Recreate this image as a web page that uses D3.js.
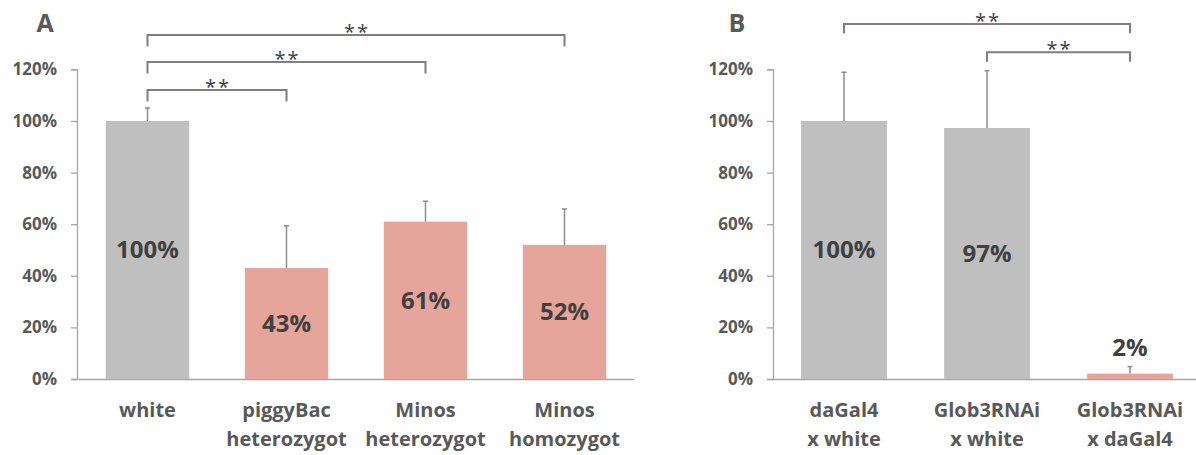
<!DOCTYPE html>
<html>
<head>
<meta charset="utf-8">
<script src="https://cdn.jsdelivr.net/npm/d3@7"></script>
<style>
  body { margin: 0; background: #fff; }
  svg { display: block; }
  text { font-family: "Open Sans", sans-serif; font-weight: bold; }
</style>
</head>
<body>
<div id="chart"></div>
<script>
const width = 1196
const height = 455

// Panel A
const catsA = ["white", "piggyBac\nheterozygot", "Minos\nheterozygot", "Minos\nhomozygot"]
const valuesA = [1.0, 0.43, 0.61, 0.52]
const errorsA = [0.05, 0.164, 0.079, 0.139]
const labelsA = ["100%", "43%", "61%", "52%"]
const groupsA = ["control", "test", "test", "test"]
const bracketsA = [[0, 1], [0, 2], [0, 3]]
const bracketLevelsA = [1.12, 1.229, 1.333]

// Panel B
const catsB = ["daGal4\nx white", "Glob3RNAi\nx white", "Glob3RNAi\nx daGal4"]
const valuesB = [1.0, 0.973, 0.021]
const errorsB = [0.189, 0.222, 0.027]
const labelsB = ["100%", "97%", "2%"]
const groupsB = ["control", "control", "test"]
const bracketsB = [[0, 2], [1, 2]]
const bracketLevelsB = [1.376, 1.266]

const yTicks = [0, 0.2, 0.4, 0.6, 0.8, 1.0, 1.2]
const stars = "**"

const color = { control: "#bfbfbf", test: "#e5a59a" }

const svg = d3.select("#chart").append("svg")
  .attr("width", width)
  .attr("height", height)

svg.append("rect").attr("width", width).attr("height", height).style("fill", "#fff")

function drawPanel(p) {
  const x = d3.scaleBand(p.cats, p.xRange).paddingInner(0.4).paddingOuter(0.2)
  const y = d3.scaleLinear([0, 1.2], [379, 69.4])
  const g = svg.append("g")

  // panel letter
  g.append("text")
    .attr("x", p.letterX).attr("y", 32)
    .attr("text-anchor", "middle")
    .style("font-size", "25px").style("fill", "#595959")
    .text(p.letter)

  // y axis
  const yAxis = d3.axisLeft(y).tickValues(yTicks).tickFormat(d3.format(".0%"))
    .tickSize(6).tickPadding(14)
  const ya = g.append("g").attr("transform", `translate(${p.yAxisX},0)`).call(yAxis)
  ya.select(".domain").style("stroke", "#a6a6a6").style("stroke-width", 1.3)
  ya.selectAll(".tick line").style("stroke", "#a6a6a6").style("stroke-width", 1.3)
  ya.selectAll(".tick text").style("font-size", "17px").style("fill", "#595959")
    .style("font-family", "'Open Sans', sans-serif")

  // x axis
  const xAxis = d3.axisBottom(x).tickSize(0).tickPadding(0)
  const xa = g.append("g").attr("transform", `translate(0,${y(0)})`).call(xAxis)
  xa.select(".domain").style("stroke", "#a6a6a6").style("stroke-width", 1.3)
  xa.selectAll(".tick text").each(function (d) {
    const t = d3.select(this).text(null).attr("y", 0).attr("dy", null)
      .style("font-size", "20px").style("fill", "#595959")
      .style("font-family", "'Open Sans', sans-serif")
    d.split("\n").forEach((line, i) => {
      t.append("tspan").attr("x", 0).attr("y", 38 + i * 29).text(line)
    })
  })

  // bars
  g.append("g").selectAll("rect")
    .data(p.values)
    .join("rect")
    .attr("x", (d, i) => x(p.cats[i]))
    .attr("width", x.bandwidth())
    .attr("y", (d) => y(d))
    .attr("height", (d) => y(0) - y(d))
    .style("fill", (d, i) => color[p.groups[i]])

  // error bars
  const eb = g.append("g").selectAll("g")
    .data(p.values)
    .join("g")
    .attr("transform", (d, i) => `translate(${x(p.cats[i]) + x.bandwidth() / 2},0)`)
  eb.append("line")
    .attr("y1", (d) => y(d))
    .attr("y2", (d, i) => y(d + p.errors[i]))
    .style("stroke", "#8c8c8c").style("stroke-width", 1.5)
  eb.append("line")
    .attr("x1", -2.5).attr("x2", 2.5)
    .attr("y1", (d, i) => y(d + p.errors[i]))
    .attr("y2", (d, i) => y(d + p.errors[i]))
    .style("stroke", "#8c8c8c").style("stroke-width", 1.5)

  // value labels
  g.append("g").selectAll("text")
    .data(p.values)
    .join("text")
    .attr("x", (d, i) => x(p.cats[i]) + x.bandwidth() / 2)
    .attr("y", (d, i) => d > 0.1 ? y(d / 2) : y(d + p.errors[i]) - 19)
    .attr("dy", "0.35em")
    .attr("text-anchor", "middle")
    .style("font-size", "24px").style("fill", "#404040")
    .text((d, i) => p.labels[i])

  // significance brackets
  const bg = g.append("g").selectAll("g")
    .data(p.brackets)
    .join("g")
  bg.append("path")
    .attr("d", (d, i) => {
      const x0 = x(p.cats[d[0]]) + x.bandwidth() / 2
      const x1 = x(p.cats[d[1]]) + x.bandwidth() / 2
      const yl = y(p.levels[i])
      const yd = yl + p.drop
      return `M${x0},${yd}V${yl}H${x1}V${yd}`
    })
    .style("fill", "none").style("stroke", "#7f7f7f").style("stroke-width", 2)
  bg.append("text")
    .attr("x", (d) => (x(p.cats[d[0]]) + x(p.cats[d[1]])) / 2 + x.bandwidth() / 2 + 1)
    .attr("y", (d, i) => y(p.levels[i]) + 4)
    .attr("text-anchor", "middle")
    .style("font-size", "20px").style("fill", "#404040")
    .style("font-weight", "normal")
    .style("letter-spacing", "2px")
    .text(stars)
}

drawPanel({
  letter: "A", letterX: 45, yAxisX: 77, xRange: [78, 634],
  cats: catsA, values: valuesA, errors: errorsA, labels: labelsA, groups: groupsA,
  brackets: bracketsA, levels: bracketLevelsA, drop: 11.5
})

drawPanel({
  letter: "B", letterX: 737, yAxisX: 773, xRange: [772.5, 1201.5],
  cats: catsB, values: valuesB, errors: errorsB, labels: labelsB, groups: groupsB,
  brackets: bracketsB, levels: bracketLevelsB, drop: 9.3
})
</script>
</body>
</html>
